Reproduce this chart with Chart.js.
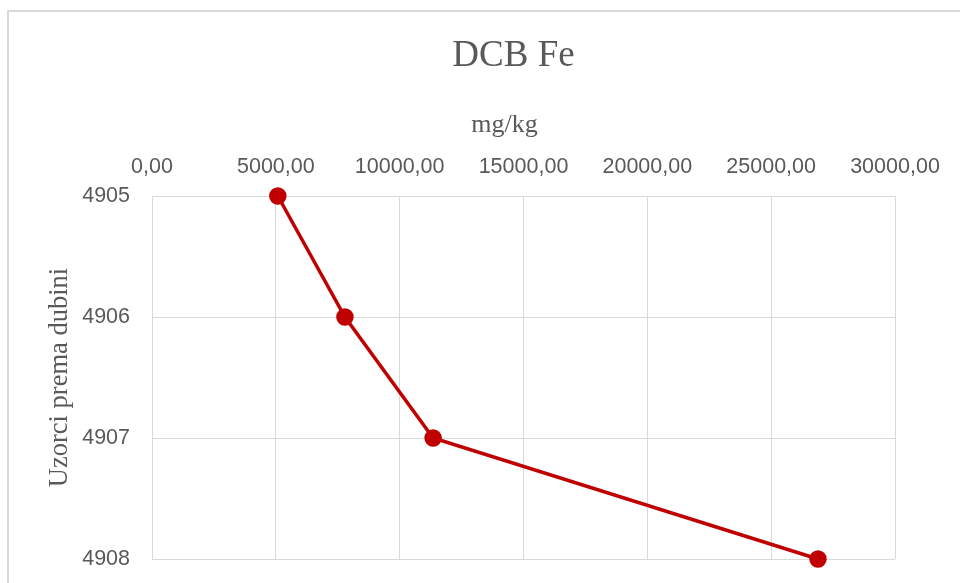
<!DOCTYPE html>
<html>
<head>
<meta charset="utf-8">
<script src="https://cdn.jsdelivr.net/npm/chart.js@4/dist/chart.umd.min.js"></script>
<style>
  html, body { margin: 0; padding: 0; background: #fff; overflow: hidden; }
  #wrap { position: relative; width: 960px; height: 583px; }
  #frame { position: absolute; left: 7px; top: 10px; width: 1000px; height: 1000px; border: 2px solid #d9d9d9; box-sizing: border-box; }
  canvas { position: absolute; left: 0; top: 0; }
</style>
</head>
<body>
<div id="wrap">
  <div id="frame"></div>
  <canvas id="c" width="960" height="583"></canvas>
</div>
<script>
const categories = ['4905', '4906', '4907', '4908'];
const feValues = [5080, 7790, 11350, 26890];
const chartTitle = 'DCB Fe';
const xTitle = 'mg/kg';
const yTitle = 'Uzorci prema dubini';

const textColor = '#595959';
const gridColor = '#d9d9d9';
const serif = '"Liberation Serif", "Times New Roman", serif';
const sans = '"Liberation Sans", Arial, sans-serif';

// Draws the chart title and the top-axis title as canvas text, at the reference's offsets
const titlesPlugin = {
  id: 'titles',
  afterDraw(chart) {
    const ctx = chart.ctx;
    ctx.save();
    ctx.fillStyle = textColor;
    ctx.textAlign = 'center';
    ctx.textBaseline = 'alphabetic';
    ctx.font = '37px ' + serif;
    ctx.fillText(chartTitle, 513.5, 66);
    ctx.font = '26px ' + serif;
    ctx.fillText(xTitle, 504.5, 132);
    ctx.restore();
  }
};

new Chart(document.getElementById('c'), {
  type: 'line',
  data: {
    labels: categories,
    datasets: [{
      label: chartTitle,
      data: feValues,
      borderColor: '#c00000',
      backgroundColor: '#c00000',
      borderWidth: 3.5,
      pointRadius: 7,
      pointHoverRadius: 7,
      pointBackgroundColor: '#c00000',
      pointBorderColor: '#c00000',
      fill: false,
      tension: 0
    }]
  },
  plugins: [titlesPlugin],
  options: {
    indexAxis: 'y',
    responsive: false,
    animation: false,
    devicePixelRatio: 1,
    layout: { padding: { top: 10, left: 8, right: 65, bottom: 24 } },
    plugins: {
      legend: { display: false },
      tooltip: { enabled: false },
      title: { display: false }
    },
    scales: {
      x: {
        type: 'linear',
        position: 'top',
        min: 0,
        max: 30000,
        afterFit: (scale) => { scale.height = 186; },
        ticks: {
          stepSize: 5000,
          color: textColor,
          padding: 16,
          maxRotation: 0,
          font: { family: sans, size: 21.5 },
          callback: (v) => Number(v).toFixed(2).replace('.', ',')
        },
        grid: { color: gridColor, lineWidth: 1, drawTicks: false },
        border: { color: gridColor }
      },
      y: {
        type: 'category',
        offset: false,
        afterFit: (scale) => { scale.width = 144; scale.paddingBottom = 0; scale.paddingTop = 0; },
        ticks: {
          color: textColor,
          padding: 22,
          font: { family: sans, size: 21.5 }
        },
        grid: { color: gridColor, lineWidth: 1, drawTicks: false },
        border: { color: gridColor },
        title: {
          display: true,
          text: yTitle,
          color: textColor,
          font: { family: serif, size: 26.5 },
          padding: { top: 36, bottom: 5 }
        }
      }
    }
  }
});
</script>
</body>
</html>
